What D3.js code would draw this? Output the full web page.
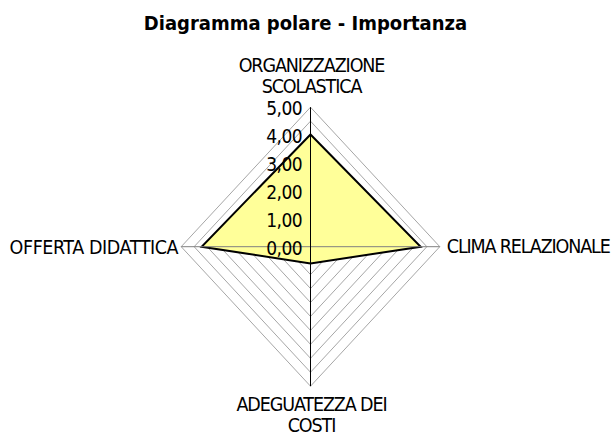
<!DOCTYPE html>
<html>
<head>
<meta charset="utf-8">
<script src="https://cdn.jsdelivr.net/npm/d3@7"></script>
<style>
  body { margin: 0; background: #fff; }
  svg { display: block; }
  text { font-family: "DejaVu Sans Condensed", "DejaVu Sans", sans-serif; fill: #000; }
</style>
</head>
<body>
<div id="chart"></div>
<script>
const title = 'Diagramma polare - Importanza';
const categories = [['ORGANIZZAZIONE', 'SCOLASTICA'], ['CLIMA RELAZIONALE'], ['ADEGUATEZZA DEI', 'COSTI'], ['OFFERTA DIDATTICA']];
const values = [4.02, 4.26, 0.6, 4.21];
const ticks = [0, 1, 2, 3, 4, 5];
const tickLabels = ['0,00', '1,00', '2,00', '3,00', '4,00', '5,00'];
const gridLevels = [0.5, 1, 1.5, 2, 2.5, 3, 3.5, 4, 4.5, 5];

const width = 611, height = 436;
const cx = 310.5, cy = 246.7;

const svg = d3.select('#chart')
    .append('svg')
    .attr('width', width)
    .attr('height', height);

// chart is a bit taller than wide
const rx = d3.scaleLinear().domain([0, 5]).range([0, 129.3]);
const ry = d3.scaleLinear().domain([0, 5]).range([0, 139.5]);

const angle = i => i * Math.PI / 2;
const point = (i, v) => [cx + rx(v) * Math.sin(angle(i)), cy - ry(v) * Math.cos(angle(i))];

const line = d3.line().curve(d3.curveLinearClosed);

// grid
svg.append('g')
    .selectAll('path')
    .data(gridLevels)
    .enter()
    .append('path')
    .attr('d', lv => line(categories.map((c, i) => point(i, lv))))
    .attr('fill', 'none')
    .attr('stroke', '#a6a6a6')
    .attr('stroke-width', 1);

// data area
svg.append('path')
    .attr('d', line(values.map((v, i) => point(i, v))))
    .attr('fill', '#ffff99')
    .attr('stroke', '#000')
    .attr('stroke-width', 2)
    .attr('stroke-linejoin', 'miter');

// spokes
svg.append('line')
    .attr('x1', point(3, 5)[0]).attr('y1', cy)
    .attr('x2', point(1, 5)[0]).attr('y2', cy)
    .attr('stroke', '#808080').attr('stroke-width', 1);
svg.append('line')
    .attr('x1', cx).attr('y1', point(0, 5)[1])
    .attr('x2', cx).attr('y2', point(2, 5)[1])
    .attr('stroke', '#000').attr('stroke-width', 1);

// value axis labels
svg.append('g')
    .selectAll('text')
    .data(ticks)
    .enter()
    .append('text')
    .attr('x', cx - 8.5)
    .attr('y', d => point(0, d)[1] + 1)
    .attr('text-anchor', 'end')
    .attr('dominant-baseline', 'central')
    .style('font-size', '19px')
    .style('letter-spacing', '-0.6px')
    .text((d, i) => tickLabels[i]);

// category labels
const labelPos = [
    { x: cx + 1, y: 71.7, anchor: 'middle', ls: -1.1 },
    { x: point(1, 5)[0] + 7, y: 253, anchor: 'start', ls: -1.15 },
    { x: cx + 1, y: 410.5, anchor: 'middle', ls: -1.1 },
    { x: point(3, 5)[0] - 3, y: 254, anchor: 'end', ls: -0.4 }
];
categories.forEach((lines, i) => {
    const t = svg.append('text')
        .attr('x', labelPos[i].x)
        .attr('y', labelPos[i].y)
        .attr('text-anchor', labelPos[i].anchor)
        .style('font-size', '19.5px')
        .style('letter-spacing', labelPos[i].ls + 'px');
    lines.forEach((l, j) => {
        t.append('tspan')
            .attr('x', labelPos[i].x)
            .attr('dy', j === 0 ? 0 : 21)
            .text(l);
    });
});

svg.append('text')
    .attr('x', 305.5)
    .attr('y', 29.5)
    .attr('text-anchor', 'middle')
    .style('font-size', '20px')
    .style('font-weight', 'bold')
    .style('letter-spacing', '0px')
    .text(title);
</script>
</body>
</html>
